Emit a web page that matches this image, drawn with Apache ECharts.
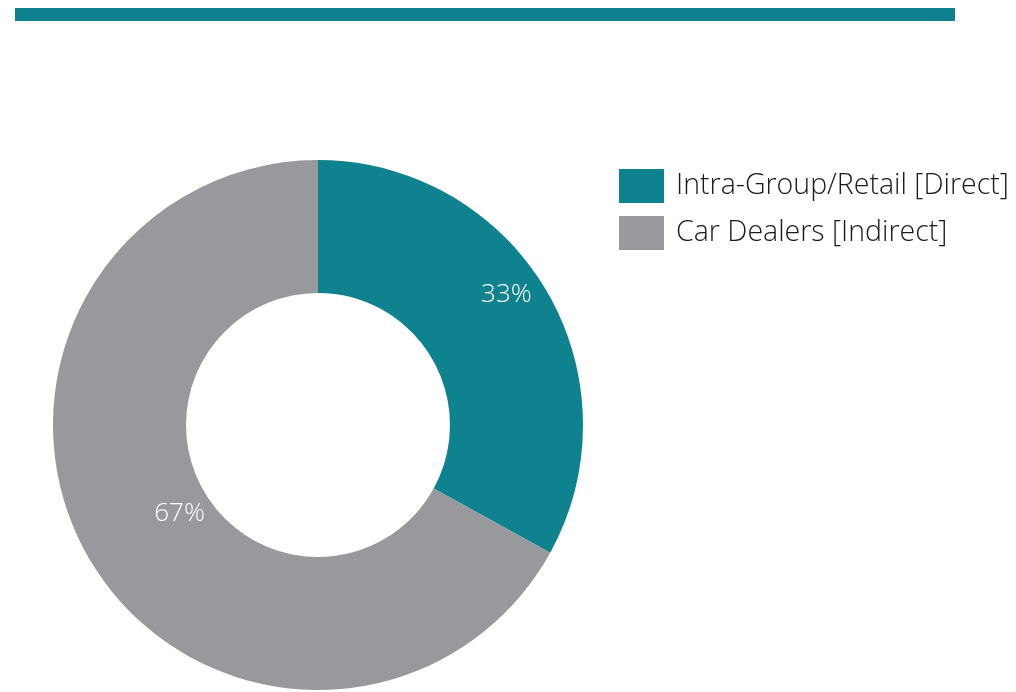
<!DOCTYPE html>
<html>
<head>
<meta charset="utf-8">
<script src="https://cdn.jsdelivr.net/npm/echarts@6/dist/echarts.min.js"></script>
<style>
  html, body { margin: 0; padding: 0; background: #fff; }
  #donut { width: 1016px; height: 692px; }
</style>
</head>
<body>
<div id="donut"></div>
<script>
var categories = ['Intra-Group/Retail [Direct]', 'Car Dealers [Indirect]'];
var shares = [33, 67];
var colors = ['#0e838f', '#98999d'];
// nudges so the % labels sit where the original put them
var labelShift = [[15, -28], [35, -14]];

var donut = echarts.init(document.getElementById('donut'));
var donut_option = {
    animation: false,
    textStyle: { fontFamily: 'Open Sans' },
    color: colors,
    graphic: [{
        type: 'rect',
        shape: { x: 15, y: 8, width: 940, height: 13 },
        style: { fill: '#0e838f' }
    }],
    legend: {
        orient: 'vertical',
        left: 614,
        top: 164,
        itemWidth: 45,
        itemHeight: 34,
        itemGap: 13,
        icon: 'rect',
        textStyle: { fontSize: 28.5, color: '#1a1a1a', fontWeight: 300, padding: [10, 0, 0, 7] },
        data: categories
    },
    series: [{
        type: 'pie',
        center: [318, 425],
        radius: [132, 265],
        startAngle: 90,
        clockwise: true,
        silent: true,
        label: {
            position: 'inside',
            formatter: '{c}%',
            color: '#fff',
            fontSize: 26,
            fontWeight: 300
        },
        labelLine: { show: false },
        labelLayout: function (p) {
            var s = labelShift[p.dataIndex];
            return { dx: s[0], dy: s[1] };
        },
        data: categories.map(function (c, i) {
            return { name: c, value: shares[i] };
        })
    }]
};
donut.setOption(donut_option);
</script>
</body>
</html>
